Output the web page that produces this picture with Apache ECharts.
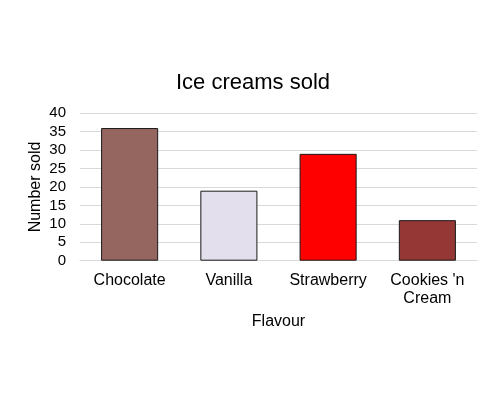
<!DOCTYPE html>
<html><head><meta charset="utf-8">
<script src="https://cdn.jsdelivr.net/npm/echarts@6/dist/echarts.min.js"></script>
<style>html,body{margin:0;padding:0;background:#fff}#c{width:500px;height:400px}</style>
</head><body><div id="c"></div>
<script>
const categories = ["Chocolate", "Vanilla", "Strawberry", "Cookies 'n\nCream"];
const soldValues = [36, 19, 29, 11];
const barColors = ["#956560", "#E4DFEC", "#FF0000", "#953735"];
const yTicks = [0, 5, 10, 15, 20, 25, 30, 35, 40];

const chart = echarts.init(document.getElementById('c'), null, {renderer: 'canvas'});
const font = 'Liberation Sans, Arial, sans-serif';
chart.setOption({
  animation: false,
  backgroundColor: '#fff',
  title: {
    text: 'Ice creams sold', left: 248, top: 67, textAlign: 'center',
    textStyle: {fontFamily: font, fontSize: 22, fontWeight: 'normal', color: '#000'}
  },
  grid: {left: 80, right: 23, top: 113.3, bottom: 139.3, containLabel: false},
  xAxis: {
    type: 'category', data: categories,
    name: 'Flavour', nameLocation: 'middle', nameGap: 53, nameMoveOverlap: false,
    nameTextStyle: {fontFamily: font, fontSize: 16, color: '#000'},
    axisLine: {show: true, lineStyle: {color: '#d9d9d9', width: 1}},
    axisTick: {show: false},
    axisLabel: {fontFamily: font, fontSize: 16, color: '#000', margin: 11, lineHeight: 18, interval: 0}
  },
  yAxis: {
    type: 'value', min: yTicks[0], max: yTicks[yTicks.length - 1], interval: yTicks[1] - yTicks[0],
    name: 'Number sold', nameLocation: 'middle', nameGap: 36, nameRotate: 90, nameMoveOverlap: false,
    nameTextStyle: {fontFamily: font, fontSize: 16, color: '#000'},
    axisLine: {show: false}, axisTick: {show: false},
    axisLabel: {fontFamily: font, fontSize: 15, color: '#000', margin: 14},
    splitLine: {lineStyle: {color: '#d9d9d9', width: 1}}
  },
  series: [{
    type: 'bar', barWidth: '57.5%',
    data: soldValues.map((v, i) => ({value: v, itemStyle: {color: barColors[i]}})),
    itemStyle: {borderColor: '#1a1a1a', borderWidth: 1}
  }]
});
</script></body></html>
